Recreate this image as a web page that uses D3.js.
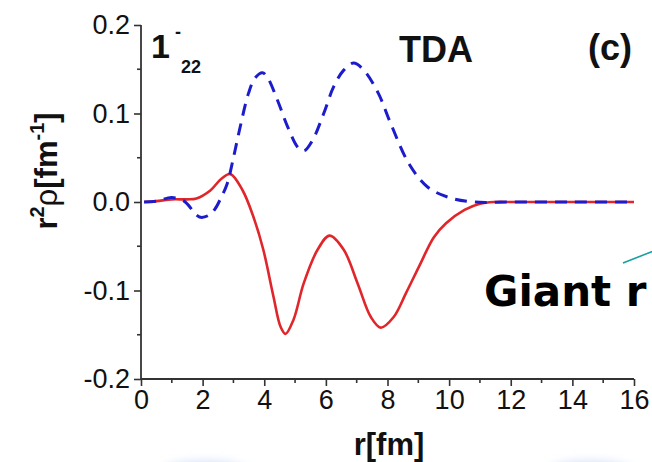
<!DOCTYPE html>
<html>
<head>
<meta charset="utf-8">
<script src="https://cdn.jsdelivr.net/npm/d3@7"></script>
<style>
  html, body { margin: 0; padding: 0; background: #fff; }
  svg { display: block; }
</style>
</head>
<body>
<svg id="chart" width="652" height="462"></svg>
<script>
// Radial transition density r^2*rho for the 1^- (22nd) TDA state
const rSolid   = [0.1, 0.5, 1.0, 1.5, 1.8, 2.25, 2.6, 2.9, 3.3, 3.65, 3.97, 4.3, 4.53, 4.69, 4.95, 5.28, 5.73, 6.12, 6.58, 7.03, 7.46, 7.78, 8.2, 8.6, 9.05, 9.5, 9.9, 10.5, 11.0, 11.5, 12, 14, 16];
const vSolid   = [0.0, 0.001, 0.003, 0.003, 0.004, 0.013, 0.026, 0.0315, 0.013, -0.017, -0.054, -0.107, -0.141, -0.149, -0.133, -0.092, -0.054, -0.038, -0.054, -0.092, -0.130, -0.142, -0.130, -0.103, -0.071, -0.040, -0.024, -0.009, -0.002, 0.0, 0.0, 0.0, 0.0];

const rDashed  = [0.1, 0.5, 1.0, 1.4, 1.9, 2.2, 2.4, 2.6, 2.8, 3.0, 3.22, 3.49, 3.7, 3.94, 4.1, 4.43, 4.76, 5.11, 5.3, 5.57, 5.93, 6.25, 6.58, 6.9, 7.23, 7.7, 8.1, 8.7, 9.3, 10.0, 10.8, 12, 14, 16];
const vDashed  = [0.0, 0.001, 0.005, 0.001, -0.017, -0.015, -0.008, 0.005, 0.021, 0.050, 0.085, 0.123, 0.140, 0.146, 0.141, 0.115, 0.085, 0.061, 0.058, 0.070, 0.100, 0.130, 0.149, 0.157, 0.149, 0.123, 0.089, 0.043, 0.017, 0.005, 0.0, 0.0, 0.0, 0.0];

const xTicks = [0, 2, 4, 6, 8, 10, 12, 14, 16];
const xMinor = [1, 3, 5, 7, 9, 11, 13, 15];
const yTicks = [-0.2, -0.1, 0.0, 0.1, 0.2];
const yMinor = [-0.15, -0.05, 0.05, 0.15];
const yTickLabels = ["-0.2", "-0.1", "0.0", "0.1", "0.2"];

const svg = d3.select("#chart");

const x = d3.scaleLinear().domain([0, 16]).range([141, 634]);
const y = d3.scaleLinear().domain([-0.2, 0.2]).range([379, 25]);

// soft background glows along the lower edge
const defs = svg.append("defs");
defs.append("filter").attr("id", "glow").attr("x", "-50%").attr("y", "-50%").attr("width", "200%").attr("height", "200%")
  .append("feGaussianBlur").attr("stdDeviation", 5);
svg.append("ellipse").attr("cx", 205).attr("cy", 471).attr("rx", 42).attr("ry", 10)
  .attr("fill", "#d6e1f7").attr("filter", "url(#glow)");
svg.append("ellipse").attr("cx", 590).attr("cy", 471).attr("rx", 42).attr("ry", 10)
  .attr("fill", "#d6e1f7").attr("filter", "url(#glow)");

const axisColor = "#333";
const tickFont = "'Liberation Sans', Arial, sans-serif";

// x axis
const xAxis = svg.append("g").attr("transform", `translate(0,${y(-0.2)})`)
  .call(d3.axisBottom(x).tickValues(xTicks).tickSize(7).tickPadding(4).tickFormat(d3.format("d")));
xAxis.append("g").selectAll("line").data(xMinor).join("line")
  .attr("x1", d => x(d)).attr("x2", d => x(d)).attr("y1", 0).attr("y2", 4);
xAxis.selectAll("line").attr("stroke", axisColor).attr("stroke-width", 1.6);
xAxis.select(".domain").attr("stroke", axisColor).attr("stroke-width", 1.8).attr("d", `M${x(0)},0H${x(16)}`);
xAxis.selectAll("text").attr("font-family", tickFont).attr("font-size", 27).attr("fill", "#111");

// y axis
const yAxis = svg.append("g").attr("transform", `translate(${x(0)},0)`)
  .call(d3.axisLeft(y).tickValues(yTicks).tickSize(7).tickPadding(4).tickFormat((d, i) => yTickLabels[i]));
yAxis.append("g").selectAll("line").data(yMinor).join("line")
  .attr("x1", 0).attr("x2", -4).attr("y1", d => y(d)).attr("y2", d => y(d));
yAxis.selectAll("line").attr("stroke", axisColor).attr("stroke-width", 1.6);
yAxis.select(".domain").attr("stroke", axisColor).attr("stroke-width", 1.8).attr("d", `M0,${y(0.2)}V${y(-0.2)}`);
yAxis.selectAll("text").attr("font-family", tickFont).attr("font-size", 27).attr("fill", "#111");

// curves
const line = d3.line().x(d => x(d[0])).y(d => y(d[1])).curve(d3.curveCatmullRom.alpha(0.5));
svg.append("path").datum(d3.zip(rSolid, vSolid)).attr("d", line)
  .attr("fill", "none").attr("stroke", "#e0262a").attr("stroke-width", 2.6);
svg.append("path").datum(d3.zip(rDashed, vDashed)).attr("d", line)
  .attr("fill", "none").attr("stroke", "#1c1ccc").attr("stroke-width", 3)
  .attr("stroke-dasharray", "12,8");

// axis titles
svg.append("text").attr("x", 389).attr("y", 455).attr("text-anchor", "middle")
  .attr("font-family", tickFont).attr("font-weight", "bold").attr("font-size", 31).attr("fill", "#111")
  .text("r[fm]");

const yl = svg.append("text").attr("transform", "translate(57,171) rotate(-90)")
  .attr("text-anchor", "middle").attr("font-family", tickFont).attr("font-weight", "bold")
  .attr("font-size", 31).attr("fill", "#111");
yl.append("tspan").text("r");
yl.append("tspan").attr("font-size", 20).attr("dy", -13).text("2");
yl.append("tspan").attr("font-weight", "normal").attr("dy", 13).text("ρ");
yl.append("tspan").text("[fm");
yl.append("tspan").attr("font-size", 20).attr("dy", -13).text("-1");
yl.append("tspan").attr("dy", 13).text("]");

// panel annotations
svg.append("text").attr("x", 151).attr("y", 58).attr("font-family", tickFont).attr("font-weight", "bold")
  .attr("font-size", 34).attr("fill", "#111").text("1");
svg.append("text").attr("x", 175).attr("y", 38).attr("font-family", tickFont).attr("font-weight", "bold")
  .attr("font-size", 18).attr("fill", "#111").text("-");
svg.append("text").attr("x", 181).attr("y", 73).attr("font-family", tickFont).attr("font-weight", "bold")
  .attr("font-size", 18).attr("fill", "#111").text("22");
svg.append("text").attr("x", 399).attr("y", 62).attr("font-family", tickFont).attr("font-weight", "bold")
  .attr("font-size", 36).attr("fill", "#111").text("TDA");
svg.append("text").attr("x", 588).attr("y", 60).attr("font-family", tickFont).attr("font-weight", "bold")
  .attr("font-size", 36).attr("fill", "#111").text("(c)");

// overlay caption with pointer line
svg.append("line").attr("x1", 623).attr("y1", 263).attr("x2", 656).attr("y2", 250)
  .attr("stroke", "#17a0a0").attr("stroke-width", 1.6);
svg.append("text").attr("x", 484).attr("y", 306).attr("font-family", "'DejaVu Sans', sans-serif")
  .attr("font-weight", "bold").attr("font-size", 42).attr("fill", "#000").text("Giant r");
</script>
</body>
</html>
